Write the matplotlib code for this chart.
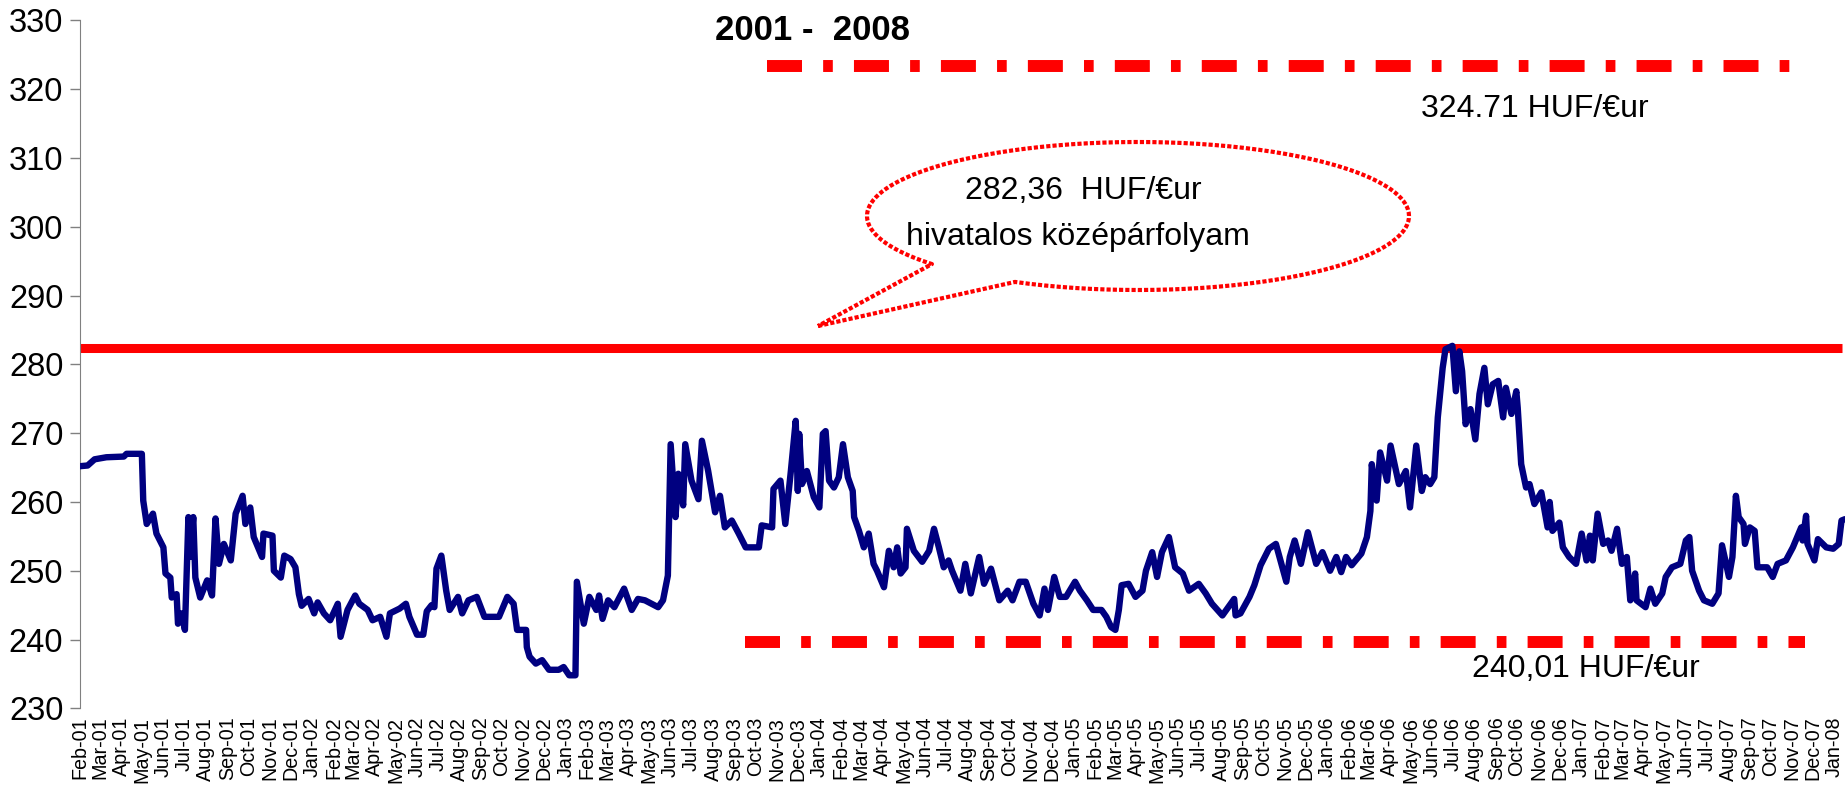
#!/usr/bin/env python
# HUF/EUR exchange rate 2001-2008 with band limits and official central rate
import numpy as np
import pandas as pd
import matplotlib
matplotlib.use("Agg")
import matplotlib.pyplot as plt
import matplotlib.dates as mdates

plt.rcParams['font.family'] = ['Liberation Sans', 'DejaVu Sans']

# daily rate at irregular dates
dates = [
    "2001-02-01", "2001-02-12", "2001-02-22", "2001-03-11", "2001-04-05", "2001-04-09",
    "2001-05-01", "2001-05-03", "2001-05-08", "2001-05-17", "2001-05-22", "2001-06-01",
    "2001-06-04", "2001-06-11", "2001-06-13", "2001-06-20", "2001-06-22", "2001-06-27",
    "2001-07-02", "2001-07-07", "2001-07-09", "2001-07-14", "2001-07-17", "2001-07-24",
    "2001-08-03", "2001-08-10", "2001-08-15", "2001-08-20", "2001-08-27", "2001-09-06",
    "2001-09-11", "2001-09-13", "2001-09-23", "2001-09-27", "2001-10-04", "2001-10-09",
    "2001-10-21", "2001-10-23", "2001-11-05", "2001-11-07", "2001-11-17", "2001-11-22",
    "2001-12-01", "2001-12-08", "2001-12-13", "2001-12-17", "2001-12-27",
    "2002-01-04", "2002-01-09", "2002-01-18", "2002-01-27", "2002-02-07", "2002-02-11",
    "2002-02-21", "2002-03-04", "2002-03-10", "2002-03-22", "2002-03-29", "2002-04-09",
    "2002-04-18", "2002-04-23", "2002-05-07", "2002-05-16", "2002-05-21", "2002-06-01",
    "2002-06-10", "2002-06-15", "2002-06-22", "2002-06-26", "2002-06-29", "2002-07-06",
    "2002-07-13", "2002-07-18", "2002-07-30", "2002-08-05", "2002-08-14", "2002-08-26",
    "2002-09-06", "2002-09-27", "2002-10-09", "2002-10-18", "2002-10-23", "2002-11-05",
    "2002-11-06", "2002-11-10", "2002-11-19", "2002-11-28", "2002-12-08", "2002-12-22",
    "2002-12-29",
    "2003-01-06", "2003-01-15", "2003-01-17", "2003-01-27", "2003-02-04", "2003-02-14",
    "2003-02-18", "2003-02-23", "2003-03-03", "2003-03-12", "2003-03-26", "2003-04-06",
    "2003-04-15", "2003-04-25", "2003-05-14", "2003-05-21", "2003-05-28", "2003-06-01",
    "2003-06-08", "2003-06-12", "2003-06-19", "2003-06-22", "2003-07-01", "2003-07-11",
    "2003-07-16", "2003-07-25", "2003-08-04", "2003-08-11", "2003-08-18", "2003-08-28",
    "2003-09-07", "2003-09-17", "2003-10-06", "2003-10-10", "2003-10-25", "2003-10-27",
    "2003-11-06", "2003-11-13", "2003-11-21", "2003-11-28", "2003-12-01", "2003-12-03",
    "2003-12-07", "2003-12-14", "2003-12-24",
    "2004-01-01", "2004-01-06", "2004-01-10", "2004-01-15", "2004-01-22", "2004-01-29",
    "2004-02-04", "2004-02-11", "2004-02-18", "2004-02-20", "2004-02-27", "2004-03-05",
    "2004-03-12", "2004-03-19", "2004-03-24", "2004-04-03", "2004-04-10", "2004-04-17",
    "2004-04-22", "2004-04-27", "2004-05-04", "2004-05-06", "2004-05-16", "2004-05-28",
    "2004-06-07", "2004-06-14", "2004-06-21", "2004-06-28", "2004-07-05", "2004-07-10",
    "2004-07-22", "2004-07-29", "2004-08-06", "2004-08-18", "2004-08-25", "2004-09-04",
    "2004-09-11", "2004-09-16", "2004-09-28", "2004-10-05", "2004-10-15", "2004-10-24",
    "2004-11-04", "2004-11-13", "2004-11-20", "2004-11-25", "2004-12-04", "2004-12-12",
    "2004-12-21",
    "2005-01-03", "2005-01-10", "2005-01-20", "2005-01-29", "2005-02-10", "2005-02-17",
    "2005-02-24", "2005-03-02", "2005-03-07", "2005-03-11", "2005-03-21", "2005-03-31",
    "2005-04-10", "2005-04-15", "2005-04-24", "2005-05-01", "2005-05-08", "2005-05-18",
    "2005-05-27", "2005-06-07", "2005-06-16", "2005-06-30", "2005-07-10", "2005-07-19",
    "2005-08-03", "2005-08-20", "2005-08-22", "2005-08-29", "2005-09-11", "2005-09-18",
    "2005-09-27", "2005-10-09", "2005-10-19", "2005-11-03", "2005-11-08", "2005-11-15",
    "2005-11-24", "2005-12-04", "2005-12-16", "2005-12-25",
    "2006-01-05", "2006-01-14", "2006-01-21", "2006-01-28", "2006-02-05", "2006-02-19",
    "2006-02-27", "2006-03-04", "2006-03-06", "2006-03-13", "2006-03-18", "2006-03-28",
    "2006-04-02", "2006-04-14", "2006-04-24", "2006-04-30", "2006-05-09", "2006-05-17",
    "2006-05-22", "2006-05-29", "2006-06-04", "2006-06-09", "2006-06-16", "2006-06-20",
    "2006-06-30", "2006-07-05", "2006-07-10", "2006-07-14", "2006-07-19", "2006-07-26",
    "2006-08-02", "2006-08-08", "2006-08-15", "2006-08-20", "2006-08-27", "2006-09-04",
    "2006-09-11", "2006-09-15", "2006-09-23", "2006-09-30", "2006-10-02", "2006-10-07",
    "2006-10-14", "2006-10-19", "2006-10-26", "2006-11-05", "2006-11-14", "2006-11-17",
    "2006-11-21", "2006-12-01", "2006-12-06", "2006-12-15", "2006-12-25",
    "2007-01-02", "2007-01-09", "2007-01-14", "2007-01-18", "2007-01-25", "2007-02-02",
    "2007-02-09", "2007-02-14", "2007-02-22", "2007-03-01", "2007-03-08", "2007-03-13",
    "2007-03-20", "2007-03-22", "2007-04-04", "2007-04-11", "2007-04-18", "2007-04-28",
    "2007-05-03", "2007-05-12", "2007-05-24", "2007-06-01", "2007-06-06", "2007-06-10",
    "2007-06-20", "2007-06-27", "2007-07-09", "2007-07-18", "2007-07-23", "2007-08-02",
    "2007-08-07", "2007-08-12", "2007-08-16", "2007-08-23", "2007-08-25", "2007-09-01",
    "2007-09-08", "2007-09-12", "2007-09-26", "2007-10-04", "2007-10-11", "2007-10-23",
    "2007-11-02", "2007-11-14", "2007-11-16", "2007-11-21", "2007-11-23", "2007-12-03",
    "2007-12-08", "2007-12-20", "2007-12-30",
    "2008-01-07", "2008-01-11", "2008-01-16",
]
rate = [
    265.2, 265.3, 266.2, 266.5, 266.6, 267.0,
    267.0, 260.2, 256.8, 258.3, 255.4, 253.4,
    249.6, 249.0, 246.1, 246.6, 242.3, 243.8,
    241.4, 257.8, 252.0, 257.8, 249.0, 246.1,
    248.6, 246.4, 257.6, 251.0, 253.9, 251.5,
    256.3, 258.3, 260.9, 256.8, 259.2, 254.9,
    252.0, 255.4, 255.1, 250.0, 249.0, 252.2,
    251.7, 250.5, 246.6, 244.9, 245.9,
    243.8, 245.4, 243.8, 242.8, 245.2, 240.4,
    244.3, 246.4, 245.2, 244.3, 242.8, 243.3,
    240.4, 243.8, 244.5, 245.2, 243.3, 240.7,
    240.7, 244.1, 245.0, 244.7, 250.3, 252.2,
    247.1, 244.3, 246.2, 243.8, 245.7, 246.2,
    243.3, 243.3, 246.2, 245.2, 241.4, 241.4,
    238.9, 237.5, 236.5, 237.0, 235.6, 235.6,
    236.0,
    234.8, 234.8, 248.4, 242.3, 246.2, 244.3,
    246.4, 243.0, 245.7, 244.7, 247.4, 244.3,
    245.9, 245.7, 244.7, 245.7, 249.3, 268.4,
    257.8, 264.1, 259.5, 268.4, 263.1, 260.4,
    268.9, 264.5, 258.5, 260.9, 256.3, 257.3,
    255.4, 253.4, 253.4, 256.6, 256.3, 261.9,
    263.1, 256.8, 264.5, 271.8, 261.6, 269.9,
    262.6, 264.5, 260.7,
    259.2, 269.9, 270.3, 263.1, 262.1, 263.6,
    268.4, 263.6, 261.6, 257.8, 255.8, 253.4,
    255.4, 251.0, 250.0, 247.6, 252.9, 250.5,
    253.4, 249.6, 250.5, 256.1, 252.9, 251.3,
    252.9, 256.1, 253.4, 250.5, 251.5, 250.0,
    247.1, 251.0, 246.7, 252.0, 248.1, 250.3,
    247.6, 245.7, 247.1, 245.7, 248.4, 248.4,
    245.2, 243.5, 247.4, 244.3, 249.1, 246.2,
    246.2,
    248.4, 247.1, 245.7, 244.3, 244.3, 243.3,
    241.8, 241.4, 244.3, 247.9, 248.1, 246.2,
    247.1, 250.0, 252.7, 249.1, 252.7, 254.9,
    250.5, 249.6, 247.1, 248.1, 246.7, 245.2,
    243.5, 245.9, 243.5, 243.8, 246.2, 247.9,
    250.8, 253.2, 253.9, 248.4, 252.0, 254.4,
    251.0, 255.6, 251.0, 252.7,
    250.0, 252.0, 249.8, 252.0, 250.8, 252.5,
    254.9, 258.7, 265.5, 260.2, 267.2, 263.1,
    268.2, 262.6, 264.5, 259.2, 268.2, 261.6,
    263.6, 262.6, 263.6, 272.3, 279.5, 282.2,
    282.7, 276.1, 281.9, 279.0, 271.3, 273.5,
    269.1, 275.7, 279.5, 274.2, 277.1, 277.6,
    272.3, 276.6, 272.8, 276.1, 273.7, 265.5,
    262.1, 262.6, 259.7, 261.4, 256.3, 260.0,
    255.8, 257.0, 253.4, 252.0, 251.0,
    255.4, 251.5, 255.1, 251.5, 258.3, 253.9,
    254.4, 252.9, 256.1, 251.0, 252.0, 245.7,
    249.6, 245.7, 244.7, 247.4, 245.2, 246.7,
    249.1, 250.5, 251.0, 254.4, 254.9, 250.0,
    247.1, 245.7, 245.2, 246.7, 253.7, 249.1,
    252.0, 260.9, 257.8, 256.8, 253.9, 256.3,
    255.8, 250.5, 250.5, 249.1, 251.0, 251.5,
    253.4, 256.3, 254.4, 258.0, 253.9, 251.5,
    254.6, 253.4, 253.2,
    253.9, 257.3, 257.5,
]

official_rate = 282.36
official_end = "2008-01-11"

# band limits (drawn where they sit in the picture) and their spans
band_levels = [323.4, 239.7]
band_starts = ["2003-10-18", "2003-09-16"]
band_ends = ["2007-11-09", "2007-11-19"]

W, H = 1849, 786
fig = plt.figure(figsize=(W / 100, H / 100), dpi=100)
ax = fig.add_axes([80 / W, 1 - 708.3 / H, (1845 - 80) / W, (708.3 - 20.5) / H])

x = pd.to_datetime(dates)
ax.plot(x, rate, color='#000080', lw=4.6, solid_joinstyle='round',
        solid_capstyle='round', zorder=3)

ax.plot(pd.to_datetime(["2001-02-01", official_end]), [official_rate] * 2,
        color='#ff0000', lw=6.5, solid_capstyle='butt', zorder=2)

for lev, s, e in zip(band_levels, band_starts, band_ends):
    ln, = ax.plot(pd.to_datetime([s, e]), [lev, lev], color='#ff0000', lw=8.6,
                  dash_capstyle='butt', zorder=2)
    ln.set_dashes([2.93, 1.77, 0.81, 1.77])

ax.set_ylim(230, 330)
ax.set_yticks(np.arange(230, 331, 10))
ax.set_xlim(pd.Timestamp("2001-02-01"), pd.Timestamp("2008-01-16"))
ax.xaxis.set_major_locator(mdates.MonthLocator())
ax.xaxis.set_major_formatter(mdates.DateFormatter('%b-%y'))

for side in ['top', 'right', 'bottom']:
    ax.spines[side].set_visible(False)
ax.spines['left'].set_color('#808080')
ax.tick_params(axis='y', labelsize=23.5, length=7, width=1, color='#808080', pad=5)
ax.tick_params(axis='x', labelsize=14.2, length=0, pad=6)
plt.setp(ax.get_xticklabels(), rotation=90)


def fpos(px, py):
    return px / W, 1 - py / H


# speech bubble round the official-rate note
cx, cy, a, b = 1138, 216, 271, 74
tip = (818, 326)
th = np.deg2rad(np.linspace(117, 139.5 - 360, 300))
bx = np.concatenate([[tip[0]], cx + a * np.cos(th), [tip[0]]])
by = np.concatenate([[tip[1]], cy + b * np.sin(th), [tip[1]]])
fx, fy = fpos(bx, by)
fig.add_artist(plt.Line2D(fx, fy, color='#ff0000', lw=3, linestyle=(0, (1, 0.5)),
                          transform=fig.transFigure))

fig.text(*fpos(813, 40), "2001 -  2008", fontsize=25, fontweight='bold',
         ha='center', va='baseline')
fig.text(*fpos(1535, 117), "324.71 HUF/€ur", fontsize=23, ha='center', va='baseline')
fig.text(*fpos(1586, 677), "240,01 HUF/€ur", fontsize=23, ha='center', va='baseline')
fig.text(*fpos(1083, 199), "282,36  HUF/€ur", fontsize=23, ha='center', va='baseline')
fig.text(*fpos(1078, 245), "hivatalos középárfolyam", fontsize=23, ha='center',
         va='baseline')

fig.savefig("out.png", dpi=100)
